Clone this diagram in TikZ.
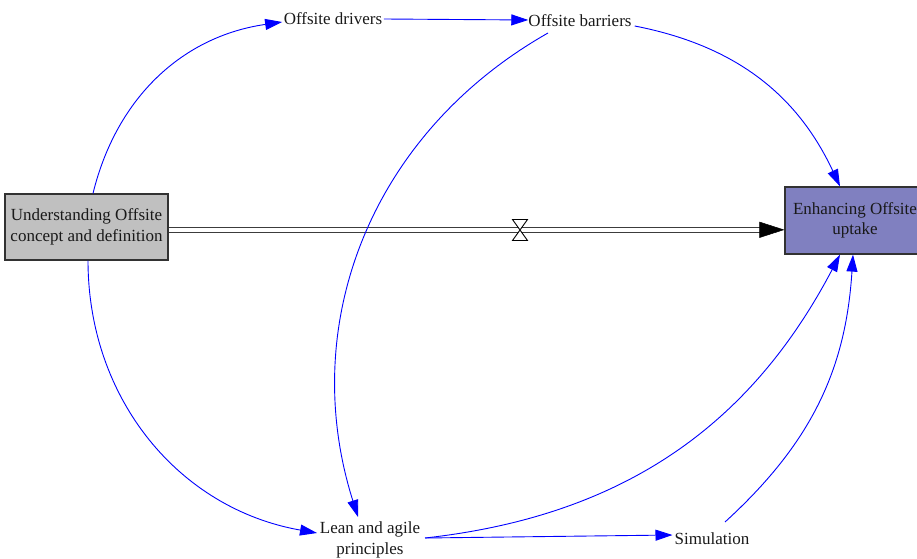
\documentclass[tikz,border=0pt]{standalone}
\usepackage{fontspec}
\setmainfont{Liberation Serif}
\usetikzlibrary{arrows.meta,calc}
\definecolor{stockgray}{RGB}{192,192,192}
\definecolor{stockblue}{RGB}{128,128,192}
\definecolor{boxedge}{RGB}{50,50,50}
\definecolor{pipegray}{RGB}{60,60,60}
\definecolor{txt}{RGB}{25,25,25}
\begin{document}
\begin{tikzpicture}[x=1pt,y=1pt,
  lbl/.style={font=\fontsize{17}{21.5}\selectfont, text=txt, inner sep=0pt, align=center},
  stockbox/.style={lbl, draw=boxedge, line width=1.2pt, minimum width=163pt, minimum height=66pt},
  link/.style={draw=blue, line width=0.9pt, -{Triangle[length=17pt,width=11pt]}},
  pipe/.style={draw=pipegray, double=white, line width=1.5pt, double distance=3.4pt},
  valvestyle/.style={draw=black, fill=white, line width=0.9pt, line join=miter}
]
\useasboundingbox (0,0) rectangle (917,558);
\clip (0,0) rectangle (917,558);

% stocks
\node[stockbox, fill=stockgray] (und) at (86.5,331) {Understanding Offsite\\concept and definition};
\node[stockbox, fill=stockblue, minimum width=140pt, minimum height=67pt,
      font=\fontsize{17}{19.5}\selectfont] (enh) at (855,337.5) {\raisebox{-2pt}{Enhancing Offsite}\\\raisebox{-2pt}{uptake}};

% variables
\node[lbl] (drv) at (333,539) {Offsite drivers};
\node[lbl] (bar) at (580,537) {Offsite barriers};
\node[lbl] (lean) at (370,18) {Lean and agile\\principles};
\node[lbl] (sim) at (712,19) {Simulation};

% flow pipe
\draw[pipe, shorten >=23pt] ([yshift=-2.8pt]und.east) -- ([yshift=-9.3pt]enh.west);
\draw[line width=0.5pt, -{Triangle[length=25pt,width=16pt]}] ([xshift=-24pt,yshift=-9.3pt]enh.west) -- ([yshift=-9.3pt]enh.west);
\coordinate (valve) at (520,328);
\draw[valvestyle] ($(valve)+(-7.5,10.5)$) -- ($(valve)+(7.5,10.5)$) -- ($(valve)+(-7.5,-10.5)$) -- ($(valve)+(7.5,-10.5)$) -- cycle;

% links
\draw[link] ([xshift=6.5pt]und.north) to[bend left=34] ([xshift=-1.5pt,yshift=-3pt]drv.west);
\draw[link] ([xshift=1.5pt]drv.east) -- ([yshift=1pt]bar.west);
\draw[link] ([xshift=3pt,yshift=-5pt]bar.east) to[bend left=27] ([xshift=-15pt]enh.north);
\draw[link] ([xshift=-32pt,yshift=-12pt]bar.center) to[bend right=39] ([xshift=-12pt,yshift=23pt]lean.center);
\draw[link] ([xshift=1.5pt]und.south) to[bend right=40] ([xshift=-53pt,yshift=7pt]lean.center);
\draw[link] ([xshift=55pt,yshift=2pt]lean.center) to[bend right=28] ([xshift=-15pt]enh.south);
\draw[link] ([xshift=55pt,yshift=2pt]lean.center) -- ([xshift=-2pt,yshift=4pt]sim.west);
\draw[link] ([xshift=13pt,yshift=17pt]sim.center) to[bend right=22] ([xshift=-2pt]enh.south);
\end{tikzpicture}
\end{document}
